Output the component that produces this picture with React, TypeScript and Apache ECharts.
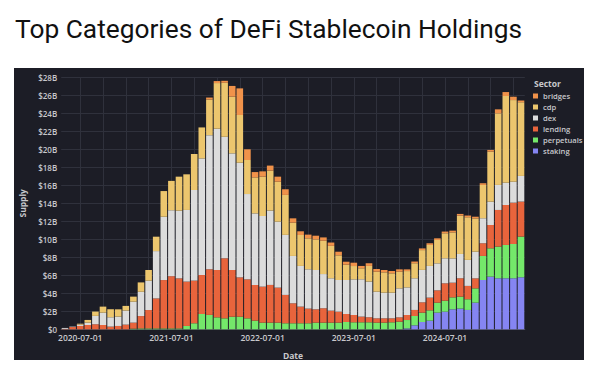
import React, { useEffect, useRef } from "react";
import * as echarts from "echarts";

const dates = [
  "2020-05-01","2020-06-01","2020-07-01","2020-08-01","2020-09-01","2020-10-01","2020-11-01","2020-12-01",
  "2021-01-01","2021-02-01","2021-03-01","2021-04-01","2021-05-01","2021-06-01","2021-07-01","2021-08-01",
  "2021-09-01","2021-10-01","2021-11-01","2021-12-01","2022-01-01","2022-02-01","2022-03-01","2022-04-01",
  "2022-05-01","2022-06-01","2022-07-01","2022-08-01","2022-09-01","2022-10-01","2022-11-01","2022-12-01",
  "2023-01-01","2023-02-01","2023-03-01","2023-04-01","2023-05-01","2023-06-01","2023-07-01","2023-08-01",
  "2023-09-01","2023-10-01","2023-11-01","2023-12-01","2024-01-01","2024-02-01","2024-03-01","2024-04-01",
  "2024-05-01","2024-06-01","2024-07-01","2024-08-01","2024-09-01","2024-10-01","2024-11-01","2024-12-01",
  "2025-01-01","2025-02-01","2025-03-01","2025-04-01","2025-05-01",
];

// values in billions of USD
const staking = [
  0,0,0,0,0,0,0,0,0,0,0,0,0,0,0,0,0,0,0,0,0,0,0,0,0,0,0,0,0,0,
  0,0,0,0,0,0,0,0,0,0,0,0,0,0,0,0.1,0.44,0.81,0.96,1.85,1.96,2.22,2.3,2.15,2.96,5.48,5.85,5.67,5.67,5.67,5.78,
];
const perpetuals = [
  0,0,0,0,0,0,0,0,0,0.07,0.1,0.1,0.1,0.1,0.1,0.1,0.37,0.67,1.7,1.6,1.33,1.22,1.4,1.4,1.22,0.96,0.74,0.74,0.74,0.67,
  0.67,0.67,0.67,0.74,0.74,0.74,0.74,0.81,0.78,0.78,0.78,0.74,0.74,0.78,0.85,0.93,1.04,1.04,1.15,1.11,1.22,1.33,1.33,1.19,1.59,2.67,3.15,3.52,3.7,3.81,4.52,
];
const lending = [
  0.05,0.25,0.37,0.48,0.56,0.48,0.3,0.37,0.52,0.67,1.37,2.04,3.33,5.37,5.8,5.56,4.93,4.74,4.33,5.07,5.26,6.67,5.19,4.37,4.33,3.96,4.0,4.19,3.89,3.15,
  2.22,1.85,1.63,1.48,1.6,1.33,1.22,0.89,0.81,0.63,0.56,0.48,0.48,0.44,0.48,0.56,0.67,1.15,1.41,1.37,1.93,1.63,2.04,1.48,1.11,1.41,2.59,4.07,4.44,4.59,3.89,
];
const dex = [
  0.1,0.05,0.15,0.26,0.93,1.37,1.04,1.04,1.56,2.33,2.7,3.26,5.26,7.04,7.33,7.52,7.96,10.07,12.96,14.9,15.7,13.5,12.96,12.74,9.48,7.96,7.85,8.26,7.33,6.67,
  5.26,4.52,4.37,4.37,3.8,3.6,3.52,3.78,3.96,4.15,3.96,2.96,2.85,2.85,3.22,3.07,3.52,3.6,3.52,3.0,2.78,2.7,2.7,2.89,2.96,2.78,2.59,2.78,2.48,2.33,2.85,
];
const cdp = [
  0,0,0.1,0.3,0.48,0.67,0.89,0.81,0.52,0.56,1.04,1.19,1.6,2.85,3.26,3.78,3.96,4.0,3.44,3.96,5.07,6.0,6.3,5.3,3.78,4.0,4.37,4.44,4.44,4.44,
  3.7,3.44,3.44,3.4,3.7,3.6,2.74,1.7,1.48,1.22,1.74,2.22,2.26,2.15,1.85,1.81,1.67,2.2,2.33,2.59,2.78,2.89,4.26,4.74,3.7,3.7,5.56,7.96,9.63,9.07,8.19,
];
const bridges = [
  0,0,0,0,0,0,0,0,0,0,0,0,0,0,0,0,0,0,0,0.22,0.22,0.22,1.19,2.96,1.19,0.59,0.59,0.56,0.56,0.63,
  0.48,0.41,0.41,0.41,0.37,0.37,0.4,0.33,0.37,0.26,0.3,0.3,0.26,0.26,0.26,0.19,0.19,0.19,0.19,0.19,0.19,0.19,0.19,0.19,0.19,0.19,0.19,0.44,0.44,0.37,0.19,
];

const yTicks = { min: 0, max: 28, interval: 2 };
const legendOrder = ["bridges", "cdp", "dex", "lending", "perpetuals", "staking"];

const colors: Record<string, string> = {
  bridges: "#f0924a",
  cdp: "#ecc66e",
  dex: "#dcdcdc",
  lending: "#e8643c",
  perpetuals: "#74e86a",
  staking: "#8585f2",
};

const stackOrder: [string, number[]][] = [
  ["staking", staking],
  ["perpetuals", perpetuals],
  ["lending", lending],
  ["dex", dex],
  ["cdp", cdp],
  ["bridges", bridges],
];

export default function App() {
  const ref = useRef<HTMLDivElement>(null);
  useEffect(() => {
    if (!ref.current) return;
    const chart = echarts.init(ref.current, undefined, { renderer: "svg" });
    const font = "Open Sans";
    const txt = "#c8c8cc";
    chart.setOption({
      animation: false,
      backgroundColor: "#ffffff",
      title: [
        {
          text: "Top Categories of DeFi Stablecoin Holdings",
          left: 10,
          top: 11,
          textStyle: { fontFamily: "Roboto", fontSize: 26.3, fontWeight: "normal", color: "#111111" },
        },
        {
          text: "Sector",
          left: 529,
          top: 74,
          textStyle: { fontFamily: font, fontSize: 8.5, fontWeight: 700, color: txt },
        },
      ],
      graphic: [
        {
          type: "rect",
          silent: true,
          z: -10,
          shape: { x: 14, y: 68, width: 570, height: 292 },
          style: { fill: "#1c1d26" },
        },
      ],
      legend: {
        data: legendOrder,
        orient: "vertical",
        left: 533,
        top: 92,
        padding: 0,
        icon: "rect",
        itemWidth: 5,
        itemHeight: 5,
        itemGap: 3,
        textStyle: { fontFamily: font, fontSize: 7.6, fontWeight: 600, color: txt },
        selectedMode: false,
      },
      grid: { left: 61.2, right: 75.2, top: 77.3, bottom: 38.7 },
      xAxis: {
        type: "category",
        data: dates,
        name: "Date",
        nameLocation: "middle",
        nameGap: 22,
        nameTextStyle: { fontFamily: font, fontSize: 8.5, fontWeight: 700, color: txt },
        axisLine: { show: true, lineStyle: { color: "#4a4c57", width: 1 } },
        axisTick: { show: false },
        axisLabel: {
          interval: (i: number, v: string) => v.endsWith("-07-01"),
          fontFamily: font,
          fontSize: 8.5,
          fontWeight: 600,
          color: txt,
          margin: 4,
        },
        splitLine: {
          show: true,
          interval: (i: number) => i % 3 === 2,
          alignWithLabel: true,
          lineStyle: { color: "#2f313c", width: 1 },
        },
      },
      yAxis: {
        type: "value",
        min: yTicks.min,
        max: yTicks.max,
        interval: yTicks.interval,
        name: "Supply",
        nameLocation: "middle",
        nameRotate: 90,
        nameGap: 33,
        nameTextStyle: { fontFamily: font, fontSize: 8.5, fontWeight: 700, color: txt },
        axisLine: { show: false },
        axisTick: { show: false },
        axisLabel: {
          formatter: (v: number) => (v === 0 ? "$0" : "$" + v + "B"),
          fontFamily: font,
          fontSize: 8,
          fontWeight: 600,
          color: txt,
          margin: 4,
        },
        splitLine: { show: true, lineStyle: { color: "#2f313c", width: 1 } },
      },
      series: stackOrder.map(([name, values]) => ({
        name,
        type: "bar",
        stack: "total",
        data: values,
        barCategoryGap: "13%",
        itemStyle: { color: colors[name] },
        emphasis: { disabled: true },
      })),
    });
    return () => chart.dispose();
  }, []);
  return (
    <div
      ref={ref}
      style={{ position: "absolute", left: 0, top: 0, width: 600, height: 368 }}
    />
  );
}
